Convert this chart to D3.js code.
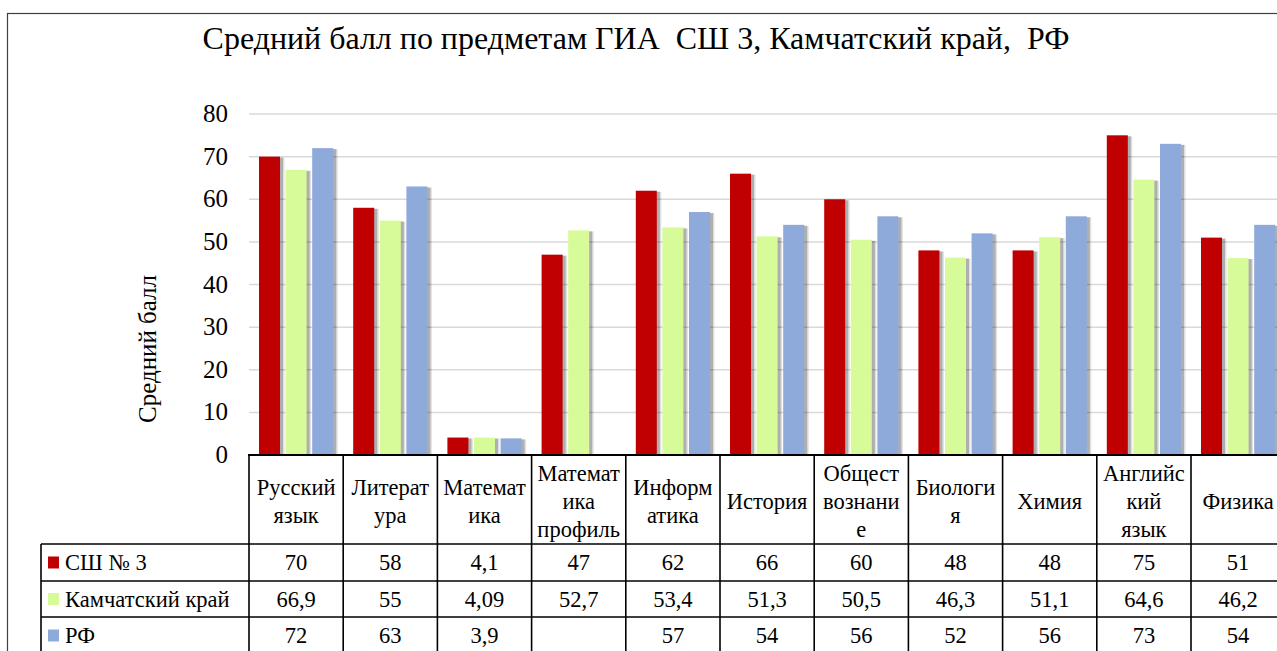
<!DOCTYPE html>
<html>
<head>
<meta charset="utf-8">
<script src="https://cdn.jsdelivr.net/npm/d3@7"></script>
</head>
<body style="margin:0">
<svg id="gia" width="1277" height="651"></svg>
<script>
// подписи категорий (разбиты по строкам, как в ячейках таблицы)
const categories = [
    ['Русский', 'язык'], ['Литерат', 'ура'], ['Математ', 'ика'],
    ['Математ', 'ика', 'профиль'], ['Информ', 'атика'], ['История'],
    ['Общест', 'вознани', 'е'], ['Биологи', 'я'], ['Химия'],
    ['Английс', 'кий', 'язык'], ['Физика']
]
const seriesNames = ['СШ № 3', 'Камчатский край', 'РФ']
const seriesColors = ['#C00000', '#D7FB98', '#8EAADB']
const school = [70, 58, 4.1, 47, 62, 66, 60, 48, 48, 75, 51]
const kamchatka = [66.9, 55, 4.09, 52.7, 53.4, 51.3, 50.5, 46.3, 51.1, 64.6, 46.2]
const russia = [72, 63, 3.9, null, 57, 54, 56, 52, 56, 73, 54]
const yTicks = [0, 10, 20, 30, 40, 50, 60, 70, 80]

const values = [school, kamchatka, russia]
const fmt = v => v === null ? '' : String(v).replace('.', ',')

const width = 1277
const plotLeft = 249
const catWidth = 94.2
const plotTop = 114
const plotBottom = 455
const rowLines = [544, 581, 617, 654]
const tableLeft = 41
const font = "'Liberation Serif', 'Times New Roman', Tinos, serif"

const svg = d3.select('#gia')

const addText = (parent, str, size) => parent.append('text')
    .attr('font-family', font)
    .style('font-family', font)
    .attr('font-size', size)
    .style('font-size', size + 'px')
    .text(str)

// рамка диаграммы
svg.append('rect')
    .attr('x', 7.5).attr('y', 13.5)
    .attr('width', 1300).attr('height', 700)
    .attr('fill', 'none').attr('stroke', '#404040').attr('stroke-width', 1.2)

const title = addText(svg, 'Средний балл по предметам ГИА\u00a0 СШ 3, Камчатский край,\u00a0 РФ', 30)
    .attr('x', 636).attr('y', 49)
    .attr('text-anchor', 'middle')
// подгоняем ширину заголовка
const tw = title.node().getComputedTextLength()
if (tw > 0) {
    const fs = Math.min(36, 30 * 867 / tw)
    title.attr('font-size', fs).style('font-size', fs + 'px')
}

const x = d3.scaleBand()
    .domain(d3.range(categories.length))
    .range([plotLeft, plotLeft + catWidth * categories.length])
    .paddingInner(0).paddingOuter(0)

const xInner = d3.scaleBand()
    .domain(d3.range(seriesNames.length))
    .range([10, catWidth - 10])
    .paddingInner(0.21)

const y = d3.scaleLinear().domain([0, 80]).range([plotBottom, plotTop])

// сетка
svg.append('g').selectAll('line').data(yTicks.filter(t => t > 0)).enter()
    .append('line')
    .attr('x1', plotLeft).attr('x2', width)
    .attr('y1', d => y(d)).attr('y2', d => y(d))
    .attr('stroke', '#d9d9d9').attr('stroke-width', 1.5)

// подписи оси Y
const yAxis = svg.append('g')
yTicks.forEach(t => {
    addText(yAxis, t, 25)
        .attr('x', 228).attr('y', y(t) + 8)
        .attr('text-anchor', 'end')
})

addText(svg, 'Средний балл', 25)
    .attr('transform', 'translate(156, 349) rotate(-90)')
    .attr('text-anchor', 'middle')

// столбцы
const barData = []
values.forEach((arr, s) => {
    arr.forEach((v, i) => {
        if (v !== null) barData.push({ s, i, v })
    })
})

// мягкая тень справа от столбцов
const shadow = svg.append('g')
;[[1.5, 3, 0.12], [3, 0, 0.22]].forEach(([dx, dw, op]) => {
    shadow.append('g').selectAll('rect').data(barData).enter()
        .append('rect')
        .attr('x', d => x(d.i) + xInner(d.s) + dx)
        .attr('y', d => y(d.v) + 1)
        .attr('width', xInner.bandwidth() + dw)
        .attr('height', d => y(0) - y(d.v) - 1)
        .attr('fill', '#000').attr('opacity', op)
})

svg.append('g')
    .selectAll('rect').data(barData).enter()
    .append('rect')
    .attr('x', d => x(d.i) + xInner(d.s))
    .attr('y', d => y(d.v))
    .attr('width', xInner.bandwidth())
    .attr('height', d => y(0) - y(d.v))
    .attr('fill', d => seriesColors[d.s])

// таблица данных
const table = svg.append('g')
const line = (x1, y1, x2, y2, w = 1.6) => table.append('line')
    .attr('x1', x1).attr('y1', y1).attr('x2', x2).attr('y2', y2)
    .attr('stroke', '#000').attr('stroke-width', w)

line(plotLeft - 1, plotBottom, width, plotBottom, 2)
rowLines.forEach(r => line(tableLeft, r, width, r))
line(tableLeft, rowLines[0], tableLeft, rowLines[3])
d3.range(categories.length + 1).forEach(i => {
    const cx = plotLeft + catWidth * i
    line(cx, plotBottom, cx, rowLines[3])
})

// подписи категорий в шапке
categories.forEach((lines, i) => {
    const cx = x(i) + catWidth / 2
    const cy = (plotBottom + rowLines[0]) / 2 + 2
    const lh = 28
    lines.forEach((t, k) => {
        addText(table, t, 22.5)
            .attr('x', cx)
            .attr('y', cy + (k - (lines.length - 1) / 2) * lh + 7)
            .attr('text-anchor', 'middle')
    })
})

// строки рядов
seriesNames.forEach((name, s) => {
    const cy = (rowLines[s] + rowLines[s + 1]) / 2
    table.append('rect')
        .attr('x', 48).attr('y', cy - 6)
        .attr('width', 11).attr('height', 12)
        .attr('fill', seriesColors[s])
    addText(table, name, 22.5)
        .attr('x', 65).attr('y', cy + 7.5)
    values[s].forEach((v, i) => {
        addText(table, fmt(v), 22.5)
            .attr('x', x(i) + catWidth / 2).attr('y', cy + 7.5)
            .attr('text-anchor', 'middle')
    })
})
</script>
</body>
</html>
